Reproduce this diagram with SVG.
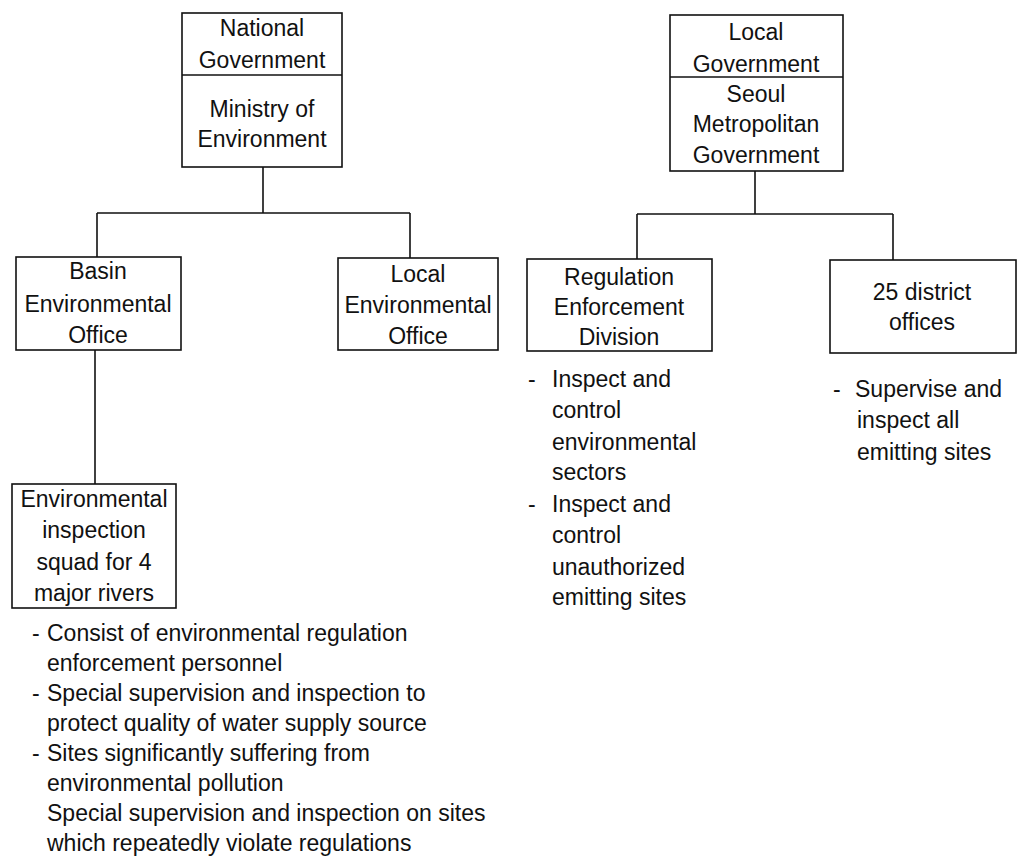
<svg xmlns="http://www.w3.org/2000/svg" width="1021" height="867" viewBox="0 0 1021 867">
<style>
  .box { fill: #fff; stroke: #111; stroke-width: 1.6; }
  .conn { fill: none; stroke: #111; stroke-width: 1.6; }
  text { font-family: "Liberation Sans", Arial, sans-serif; font-size: 23px; fill: #111; }
  .c { text-anchor: middle; }
</style>
<rect width="1021" height="867" fill="#fff"/>
<g id="connectors">
  <path class="conn" d="M263,167 V213 M97,213 H410 M97,213 V257 M410,213 V258"/>
  <path class="conn" d="M95,350 V484"/>
  <path class="conn" d="M755,171 V214 M637,214 H893 M637,214 V259 M893,214 V260"/>
</g>
<g id="national">
  <rect class="box" x="182" y="13" width="160" height="154"/>
  <line class="conn" x1="182" y1="75" x2="342" y2="75"/>
  <text class="c" x="262" y="36">National</text>
  <text class="c" x="262" y="68">Government</text>
  <text class="c" x="262" y="117">Ministry of</text>
  <text class="c" x="262" y="147">Environment</text>
</g>
<g id="localgov">
  <rect class="box" x="670" y="15" width="173" height="156"/>
  <line class="conn" x1="670" y1="77" x2="843" y2="77"/>
  <text class="c" x="756" y="40">Local</text>
  <text class="c" x="756" y="72">Government</text>
  <text class="c" x="756" y="102">Seoul</text>
  <text class="c" x="756" y="132">Metropolitan</text>
  <text class="c" x="756" y="163">Government</text>
</g>
<g id="basin">
  <rect class="box" x="16" y="257" width="165" height="93"/>
  <text class="c" x="98" y="279">Basin</text>
  <text class="c" x="98" y="312">Environmental</text>
  <text class="c" x="98" y="343">Office</text>
</g>
<g id="localenv">
  <rect class="box" x="338" y="258" width="160" height="92"/>
  <text class="c" x="418" y="282">Local</text>
  <text class="c" x="418" y="313">Environmental</text>
  <text class="c" x="418" y="344">Office</text>
</g>
<g id="red">
  <rect class="box" x="527" y="259" width="185" height="92"/>
  <text class="c" x="619" y="285">Regulation</text>
  <text class="c" x="619" y="315">Enforcement</text>
  <text class="c" x="619" y="345">Division</text>
</g>
<g id="district">
  <rect class="box" x="830" y="260" width="186" height="93"/>
  <text class="c" x="922" y="300">25 district</text>
  <text class="c" x="922" y="330">offices</text>
</g>
<g id="squad">
  <rect class="box" x="12" y="484" width="164" height="124"/>
  <text class="c" x="94" y="507">Environmental</text>
  <text class="c" x="94" y="538">inspection</text>
  <text class="c" x="94" y="570">squad for 4</text>
  <text class="c" x="94" y="601">major rivers</text>
</g>
<g id="squad-notes">
  <text x="32" y="641">-</text><text x="47" y="641">Consist of environmental regulation</text>
  <text x="47" y="671">enforcement personnel</text>
  <text x="32" y="701">-</text><text x="47" y="701">Special supervision and inspection to</text>
  <text x="47" y="731">protect quality of water supply source</text>
  <text x="32" y="761">-</text><text x="47" y="761">Sites significantly suffering from</text>
  <text x="47" y="791">environmental pollution</text>
  <text x="47" y="821">Special supervision and inspection on sites</text>
  <text x="47" y="851">which repeatedly violate regulations</text>
</g>
<g id="red-notes">
  <text x="528" y="387">-</text><text x="552" y="387">Inspect and</text>
  <text x="552" y="418">control</text>
  <text x="552" y="450">environmental</text>
  <text x="552" y="480">sectors</text>
  <text x="528" y="512">-</text><text x="552" y="512">Inspect and</text>
  <text x="552" y="543">control</text>
  <text x="552" y="575">unauthorized</text>
  <text x="552" y="605">emitting sites</text>
</g>
<g id="district-notes">
  <text x="833" y="397">-</text><text x="855" y="397">Supervise and</text>
  <text x="857" y="428">inspect all</text>
  <text x="857" y="460">emitting sites</text>
</g>
</svg>
